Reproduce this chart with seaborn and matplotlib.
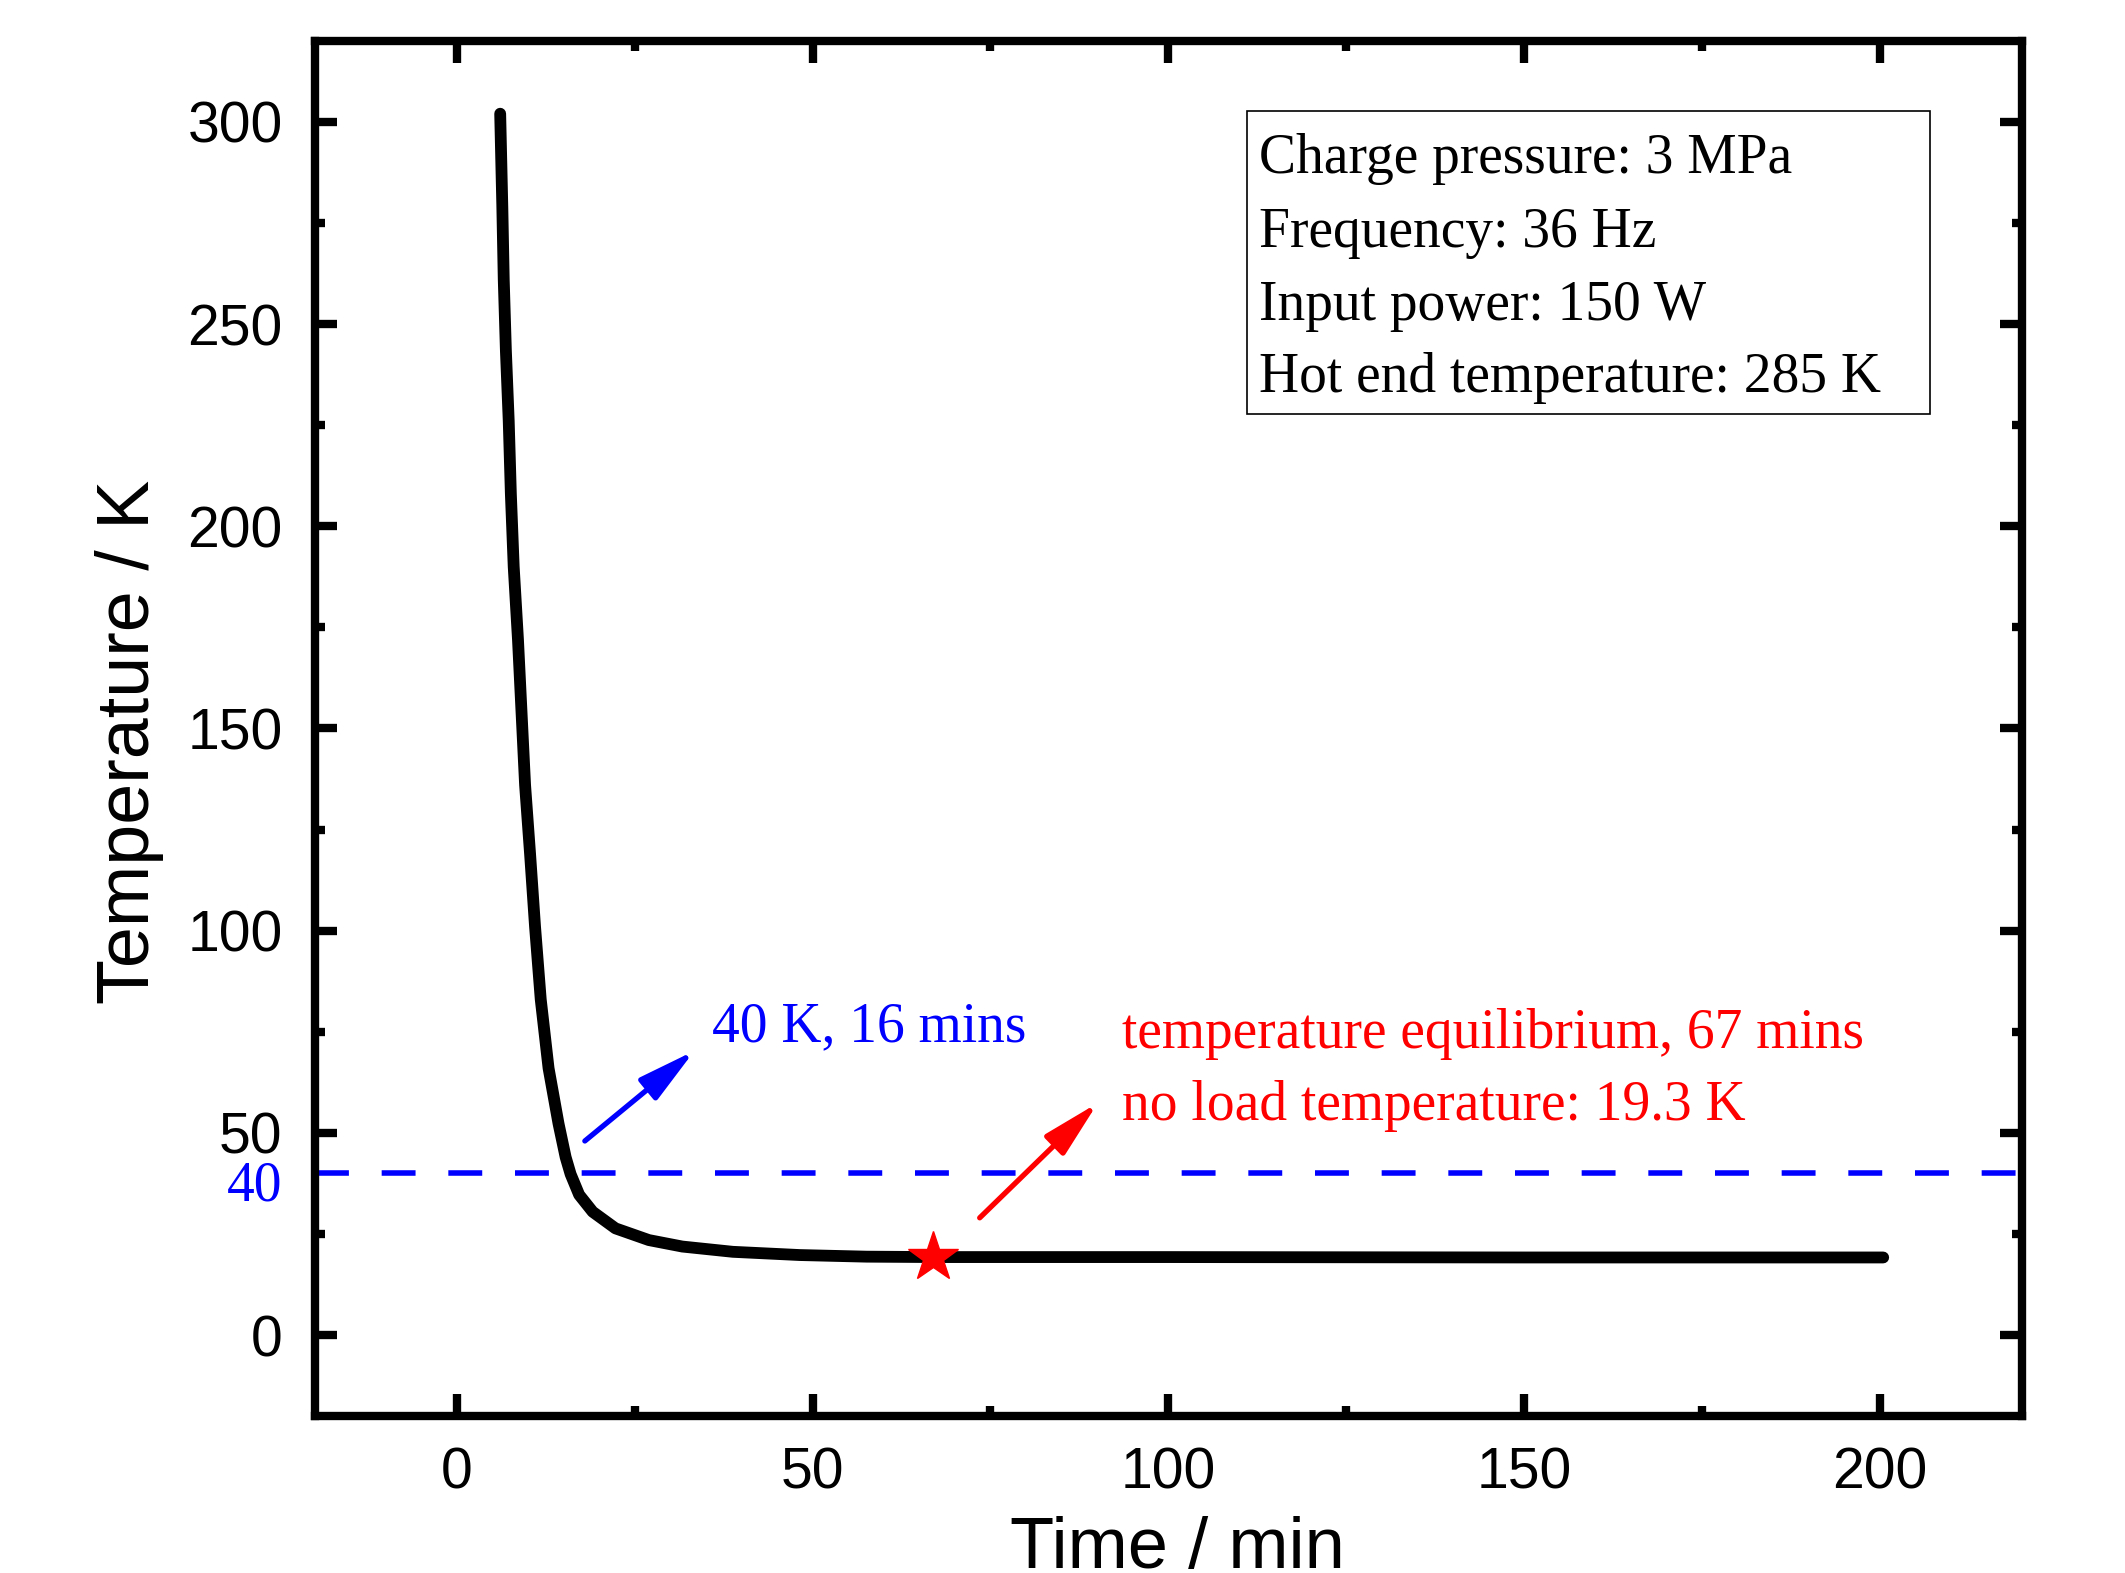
import matplotlib
matplotlib.use("Agg")
import matplotlib.pyplot as plt
import matplotlib.transforms as mtransforms
from matplotlib.patches import Rectangle
from matplotlib.ticker import MultipleLocator, FixedLocator
import pandas as pd
import seaborn as sns

# ---------------- data ----------------
time_min = [6.1, 6.4, 6.6, 6.9, 7.3, 7.6, 8.0, 8.6, 9.1, 9.6, 10.3, 11.0,
            11.8, 12.9, 14.3, 15.3, 16.0, 17.2, 19.1, 22.3, 27.0, 31.7, 38.8,
            48.2, 57.6, 67.0, 100.0, 150.0, 200.5]
temperature_k = [302, 279, 261, 243.5, 226, 208, 190, 172, 154, 136, 119, 101,
                 83, 66, 52.3, 44.0, 39.8, 34.7, 30.5, 26.4, 23.5, 21.9, 20.6,
                 19.8, 19.4, 19.3, 19.3, 19.2, 19.2]
x_ticks = [0, 50, 100, 150, 200]
y_ticks = [0, 50, 100, 150, 200, 250, 300]
threshold_k = 40
equilibrium_time = 67
no_load_temp = 19.3
info_lines = ["Charge pressure: 3 MPa",
              "Frequency: 36 Hz",
              "Input power: 150 W",
              "Hot end temperature: 285 K"]
blue_note = "40 K, 16 mins"
red_notes = ["temperature equilibrium, 67 mins",
             "no load temperature: 19.3 K"]

# ---------------- style ----------------
sns.set_style("ticks")
plt.rcParams["font.family"] = ["Liberation Sans", "DejaVu Sans"]
plt.rcParams.update({"text.color": "black", "axes.labelcolor": "black",
                     "xtick.color": "black", "ytick.color": "black",
                     "axes.edgecolor": "black"})
SERIF = ["Liberation Serif", "DejaVu Serif"]

fig = plt.figure(figsize=(21.25, 15.73), dpi=100)
ax = fig.add_axes([0.148, 0.0998, 0.8035, 0.8742])

df = pd.DataFrame({"Time": time_min, "Temperature": temperature_k})
sns.lineplot(data=df, x="Time", y="Temperature", color="black", lw=8.5,
             estimator=None, sort=False, ax=ax, solid_capstyle="round",
             solid_joinstyle="round", zorder=3)

# 40 K threshold dashed line
ax.axhline(threshold_k, color="#0000FF", lw=4.0, dashes=(6.1, 5.9), zorder=2)

# equilibrium star
ax.plot([equilibrium_time], [no_load_temp], marker="*", color="#FF0000",
        markersize=38, linestyle="none", zorder=5)

ax.set_xlim(-20, 220)
ax.set_ylim(-20, 320)
ax.xaxis.set_major_locator(FixedLocator(x_ticks))
ax.yaxis.set_major_locator(FixedLocator(y_ticks))
ax.xaxis.set_minor_locator(MultipleLocator(25))
ax.yaxis.set_minor_locator(MultipleLocator(25))

for s in ax.spines.values():
    s.set_linewidth(6)
    s.set_color("black")
    s.set_visible(True)

ax.tick_params(which="major", direction="in", length=16, width=6,
               top=True, right=True, labelsize=41, color="black",
               labelcolor="black")
ax.tick_params(which="minor", direction="in", length=7, width=6,
               top=True, right=True, color="black")
ax.tick_params(axis="y", which="major", pad=23)
ax.tick_params(axis="x", which="major", pad=22)

ax.set_xlabel("Time / min", fontsize=52, color="black")
ax.set_ylabel("Temperature / K", fontsize=53, color="black")
ax.xaxis.set_label_coords(0.5055, -0.0725)
ax.yaxis.set_label_coords(-0.088, 0.49)

# blue "40" label on the y axis
trans = mtransforms.blended_transform_factory(ax.transAxes, ax.transData)
ax.text(-0.0187, 33.3, str(threshold_k), transform=trans, ha="right",
        va="baseline", color="#0000FF", fontsize=40, family=SERIF)

# info box
ax.add_patch(Rectangle((0.546, 0.729), 0.400, 0.220, transform=ax.transAxes,
                       fill=False, edgecolor="black", lw=1.2, zorder=6))
for yb, line in zip([0.904, 0.850, 0.797, 0.745], info_lines):
    ax.text(0.553, yb, line, transform=ax.transAxes, ha="left", va="baseline",
            fontsize=40, family=SERIF, color="black")

# annotations
ax.annotate("", xy=(33.4, 70.3), xytext=(18.0, 48.0),
            arrowprops=dict(arrowstyle="-|>,head_length=1.75,head_width=0.42",
                            color="#0000FF", lw=3.8, mutation_scale=20,
                            shrinkA=0, shrinkB=0))
ax.text(35.9, 72.6, blue_note, ha="left", va="baseline", color="#0000FF",
        fontsize=40, family=SERIF)

ax.annotate("", xy=(90.1, 57.4), xytext=(73.5, 29.0),
            arrowprops=dict(arrowstyle="-|>,head_length=1.75,head_width=0.42",
                            color="#FF0000", lw=3.8, mutation_scale=20,
                            shrinkA=0, shrinkB=0))
for yb, line in zip([71.0, 53.2], red_notes):
    ax.text(93.5, yb, line, ha="left", va="baseline", color="#FF0000",
            fontsize=40, family=SERIF)

fig.savefig("out.png", dpi=100)
